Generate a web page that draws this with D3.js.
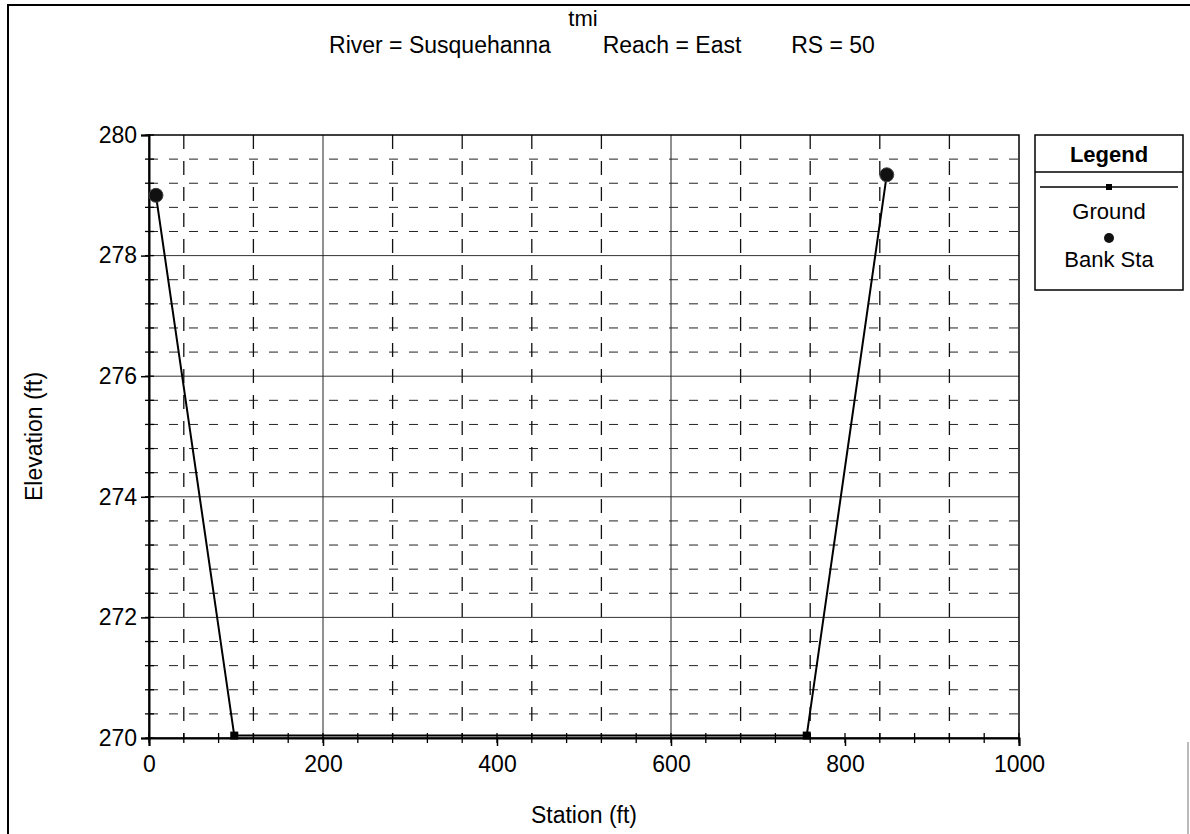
<!DOCTYPE html>
<html>
<head>
<meta charset="utf-8">
<script src="https://cdn.jsdelivr.net/npm/d3@7"></script>
<style>
  html, body { margin: 0; padding: 0; background: #fff; }
  svg { display: block; font-family: "Liberation Sans", Arial, sans-serif; }
</style>
</head>
<body>
<svg id="chart" width="1190" height="834"></svg>
<script>
// Cross-section geometry, RS = 50
const groundStation   = [8, 98, 756, 848];
const groundElevation = [279.0, 270.04, 270.04, 279.34];
const bankStation     = [8, 848];
const bankElevation   = [279.0, 279.34];

const xTickValues = [0, 200, 400, 600, 800, 1000];
const yTickValues = [270, 272, 274, 276, 278, 280];
const xMinorTicks = d3.range(0, 1001, 40);
const yMinorTicks = d3.range(270, 280.001, 0.4);
const xGridDashed = [40, 120, 280, 360, 440, 520, 680, 760, 840, 920];
const xGridSolid  = [200, 600];
const yGridSolid  = [272, 274, 276, 278];
const yGridDashed = yMinorTicks.filter(v => Math.abs(v / 2 - Math.round(v / 2)) > 0.01);

const titleText     = "tmi";
const subtitleParts = ["River = Susquehanna", "Reach = East", "RS = 50"];
const legendTitle   = "Legend";
const legendItems   = ["Ground", "Bank Sta"];

const svg = d3.select("#chart");
const plot = { left: 149, right: 1019, top: 135, bottom: 738 };

const x = d3.scaleLinear().domain([0, 1000]).range([plot.left, plot.right]);
const y = d3.scaleLinear().domain([270, 280]).range([plot.bottom, plot.top]);

// page frame
svg.append("path")
  .attr("d", `M8,834 L8,5 L1190,5`)
  .attr("fill", "none").attr("stroke", "#000").attr("stroke-width", 2);
svg.append("line")
  .attr("x1", 1188).attr("x2", 1188).attr("y1", 742).attr("y2", 834)
  .attr("stroke", "#777").attr("stroke-width", 1);

// titles
svg.append("text").attr("x", 583).attr("y", 26)
  .attr("text-anchor", "middle").attr("font-size", 22).text(titleText);
const subCenters = [440, 672, 833];
svg.append("g").selectAll("text").data(subtitleParts).join("text")
  .attr("x", (d, i) => subCenters[i]).attr("y", 53)
  .attr("text-anchor", "middle").attr("font-size", 23).text(d => d);

// grid
const grid = svg.append("g");
grid.selectAll("line.ydash").data(yGridDashed).join("line")
  .attr("x1", plot.left).attr("x2", plot.right)
  .attr("y1", d => y(d)).attr("y2", d => y(d))
  .attr("stroke", "#222").attr("stroke-width", 1).attr("stroke-dasharray", "9,11");
grid.selectAll("line.ysolid").data(yGridSolid).join("line")
  .attr("x1", plot.left).attr("x2", plot.right)
  .attr("y1", d => y(d)).attr("y2", d => y(d))
  .attr("stroke", "#333").attr("stroke-width", 1);
grid.selectAll("line.xdash").data(xGridDashed).join("line")
  .attr("x1", d => x(d)).attr("x2", d => x(d))
  .attr("y1", plot.top).attr("y2", plot.bottom)
  .attr("stroke", "#111").attr("stroke-width", 1.3).attr("stroke-dasharray", "14,12");
grid.selectAll("line.xsolid").data(xGridSolid).join("line")
  .attr("x1", d => x(d)).attr("x2", d => x(d))
  .attr("y1", plot.top).attr("y2", plot.bottom)
  .attr("stroke", "#222").attr("stroke-width", 1);

// plot border
svg.append("rect")
  .attr("x", plot.left).attr("y", plot.top)
  .attr("width", plot.right - plot.left).attr("height", plot.bottom - plot.top)
  .attr("fill", "none").attr("stroke", "#000").attr("stroke-width", 1.5);

// axes
const xAxis = d3.axisBottom(x).tickValues(xTickValues).tickSize(8).tickPadding(10).tickFormat(d3.format("d"));
const yAxis = d3.axisLeft(y).tickValues(yTickValues).tickSize(8).tickPadding(4).tickFormat(d3.format("d"));
const gx = svg.append("g").attr("transform", `translate(0,${plot.bottom})`).call(xAxis);
const gy = svg.append("g").attr("transform", `translate(${plot.left},0)`).call(yAxis);
[gx, gy].forEach(g => {
  g.select(".domain").attr("stroke", "#000").attr("stroke-width", 2);
  g.selectAll(".tick line").attr("stroke", "#000").attr("stroke-width", 1.5);
  g.selectAll(".tick text").attr("font-size", 23).attr("fill", "#000")
    .attr("font-family", "'Liberation Sans', Arial, sans-serif");
});

// minor ticks straddling the axes
svg.append("g").selectAll("line").data(xMinorTicks).join("line")
  .attr("x1", d => x(d)).attr("x2", d => x(d))
  .attr("y1", plot.bottom - 5).attr("y2", plot.bottom + 5)
  .attr("stroke", "#000").attr("stroke-width", 1.3);
svg.append("g").selectAll("line").data(yMinorTicks).join("line")
  .attr("x1", plot.left - 4).attr("x2", plot.left + 5)
  .attr("y1", d => y(d)).attr("y2", d => y(d))
  .attr("stroke", "#000").attr("stroke-width", 1.3);

// axis titles
svg.append("text").attr("x", (plot.left + plot.right) / 2).attr("y", 823)
  .attr("text-anchor", "middle").attr("font-size", 23).text("Station (ft)");
svg.append("text")
  .attr("transform", `translate(42,${(plot.top + plot.bottom) / 2}) rotate(-90)`)
  .attr("text-anchor", "middle").attr("font-size", 23).text("Elevation (ft)");

// ground line with square markers
const groundPts = groundStation.map((s, i) => [s, groundElevation[i]]);
svg.append("path").datum(groundPts)
  .attr("d", d3.line().x(d => x(d[0])).y(d => y(d[1])))
  .attr("fill", "none").attr("stroke", "#000").attr("stroke-width", 2);
svg.append("g").selectAll("rect").data(groundPts).join("rect")
  .attr("x", d => x(d[0]) - 4).attr("y", d => y(d[1]) - 4)
  .attr("width", 8).attr("height", 8).attr("fill", "#000");

// bank stations
const bankPts = bankStation.map((s, i) => [s, bankElevation[i]]);
svg.append("g").selectAll("circle").data(bankPts).join("circle")
  .attr("cx", d => x(d[0])).attr("cy", d => y(d[1])).attr("r", 7)
  .attr("fill", "#111").attr("stroke", "#444").attr("stroke-width", 1);

// legend
const lg = svg.append("g");
const L = { x: 1035, y: 135, w: 148, h: 155, head: 37 };
lg.append("rect").attr("x", L.x).attr("y", L.y).attr("width", L.w).attr("height", L.h)
  .attr("fill", "#fff").attr("stroke", "#000").attr("stroke-width", 1.5);
lg.append("line").attr("x1", L.x).attr("x2", L.x + L.w)
  .attr("y1", L.y + L.head).attr("y2", L.y + L.head)
  .attr("stroke", "#000").attr("stroke-width", 1.5);
lg.append("text").attr("x", L.x + L.w / 2).attr("y", L.y + 27)
  .attr("text-anchor", "middle").attr("font-size", 22).attr("font-weight", "bold").text(legendTitle);
lg.append("line").attr("x1", L.x + 5).attr("x2", L.x + L.w - 5)
  .attr("y1", 187).attr("y2", 187).attr("stroke", "#000").attr("stroke-width", 1.5);
lg.append("rect").attr("x", L.x + L.w / 2 - 3).attr("y", 184).attr("width", 6).attr("height", 6).attr("fill", "#000");
lg.append("text").attr("x", L.x + L.w / 2).attr("y", 219)
  .attr("text-anchor", "middle").attr("font-size", 22).text(legendItems[0]);
lg.append("circle").attr("cx", L.x + L.w / 2).attr("cy", 238).attr("r", 5).attr("fill", "#111");
lg.append("text").attr("x", L.x + L.w / 2).attr("y", 267)
  .attr("text-anchor", "middle").attr("font-size", 22).text(legendItems[1]);
</script>
</body>
</html>
